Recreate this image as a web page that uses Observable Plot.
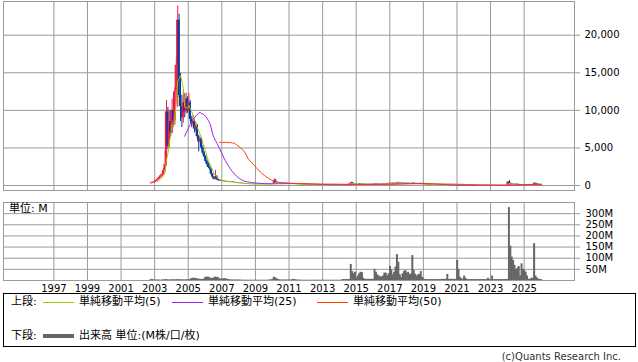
<!DOCTYPE html>
<html><head><meta charset="utf-8">
<script src="https://cdn.jsdelivr.net/npm/d3@7"></script>
<script src="https://cdn.jsdelivr.net/npm/@observablehq/plot@0.6"></script>
<style>
html,body{margin:0;padding:0;background:#fff;}
#chart{position:relative;width:638px;height:362px;overflow:hidden;background:#fff;font-family:"DejaVu Sans","Noto Sans CJK JP",sans-serif;color:#000;}
.abs{position:absolute;white-space:nowrap;}
</style></head><body><div id="chart"></div>
<script>
// ---- data: monthly bars starting October 2002 ----
const firstYear = 2002, firstMonth = 10;
const opens = [
  250, 300, 350,
  450, 600, 700, 900, 1100, 1300, 1500, 2000, 2800, 9800, 5200, 8500,
  7000, 10000, 8600, 12500, 16000, 22000, 12000, 10500, 9000, 11000, 9800, 11500,
  10000, 11000, 8800, 8200, 8500, 7500, 8000, 6500, 5800, 6200, 5000, 4300,
  3800, 3200, 2800, 2400, 2200, 1500, 1100, 800, 1200, 800, 650, 600,
  580, 560, 540, 520, 500, 480, 460, 440, 420, 400, 380, 340,
  320, 300, 280, 260, 250, 240, 230, 220, 210, 200, 200, 190,
  180, 180, 180, 170, 170, 180, 190, 200, 200, 210, 220, 230,
  240, 250, 600, 350, 330, 320, 310, 300, 300, 290, 280, 270,
  260, 250, 240, 220, 200, 180, 160, 150, 140, 130, 120, 120,
  110, 110, 100, 100, 100, 100, 100, 100, 100, 100, 100, 100,
  100, 100, 110, 110, 100, 100, 100, 100, 100, 100, 100, 100,
  100, 100, 100, 100, 100, 110, 120, 150, 200, 350, 250, 200,
  180, 170, 160, 200, 180, 160, 150, 140, 130, 140, 150, 160,
  150, 160, 200, 180, 170, 170, 180, 190, 200, 220, 230, 250,
  280, 270, 280, 300, 320, 330, 400, 350, 320, 300, 320, 300,
  290, 280, 270, 260, 260, 300, 250, 250, 250, 240, 260, 230,
  200, 150, 120, 100, 80, 60, 50, 50, 40, 40, 40, 40,
  40, 40, 40, 35, 35, 30, 40, 35, 30, 30, 30, 30,
  30, 60, 45, 35, 35, 40, 35, 30, 30, 30, 30, 30,
  30, 30, 30, 30, 30, 30, 30, 30, 30, 30, 30, 35,
  30, 30, 40, 30, 30, 30, 30, 30, 30, 30, 30, 30,
  40, 450, 300, 200, 180, 150, 140, 160, 120, 130, 110, 100,
  100, 100, 100, 100, 100, 110, 120, 150, 300, 200, 150, 130,
  120
];
const highs = [
  450, 420, 520,
  700, 800, 1000, 1250, 1400, 1700, 2300, 4600, 11300, 10400, 10000, 10000,
  11500, 12300, 13000, 17000, 23900, 22800, 14900, 12000, 12600, 12200, 12300, 11800,
  12200, 11300, 9200, 9300, 8700, 8400, 8100, 6700, 6400, 6300, 5300, 4500,
  4000, 3400, 3000, 2700, 2300, 1600, 1200, 2000, 1300, 850, 700, 650,
  620, 600, 580, 560, 540, 520, 500, 470, 450, 430, 400, 360,
  340, 320, 300, 280, 270, 260, 250, 240, 230, 220, 220, 210,
  200, 200, 200, 190, 200, 210, 220, 220, 230, 240, 250, 260,
  280, 900, 800, 380, 360, 350, 340, 330, 320, 310, 300, 290,
  280, 270, 260, 240, 220, 200, 180, 170, 160, 150, 140, 130,
  130, 120, 115, 115, 115, 115, 115, 115, 115, 115, 115, 115,
  115, 130, 130, 120, 115, 115, 115, 115, 115, 115, 115, 115,
  115, 115, 115, 115, 125, 140, 180, 240, 440, 380, 260, 220,
  200, 190, 240, 230, 200, 180, 170, 160, 170, 180, 190, 180,
  180, 240, 220, 200, 200, 210, 220, 240, 260, 260, 280, 310,
  310, 310, 340, 360, 370, 440, 420, 370, 340, 350, 340, 320,
  310, 300, 290, 290, 340, 320, 280, 280, 270, 290, 280, 240,
  210, 160, 130, 110, 90, 70, 60, 55, 50, 50, 50, 50,
  50, 50, 45, 45, 40, 60, 50, 40, 40, 40, 40, 40,
  80, 70, 50, 45, 50, 45, 40, 40, 40, 40, 40, 40,
  40, 40, 40, 40, 40, 40, 40, 40, 40, 40, 45, 40,
  40, 50, 45, 40, 40, 40, 40, 40, 40, 40, 40, 50,
  480, 660, 320, 230, 200, 170, 190, 170, 150, 140, 120, 120,
  120, 115, 115, 115, 130, 140, 170, 310, 300, 210, 160, 140,
  130
];
const lows = [
  200, 260, 330,
  420, 550, 620, 850, 950, 1200, 1400, 1900, 2600, 4800, 5000, 6500,
  6900, 7700, 8000, 11000, 10400, 11700, 8500, 7700, 8300, 9000, 9500, 9600,
  9800, 8400, 7700, 7900, 7000, 7200, 6200, 4500, 5600, 4800, 4100, 3600,
  3000, 2600, 2300, 2000, 1400, 1000, 750, 750, 700, 600, 560, 550,
  530, 510, 500, 480, 460, 440, 420, 400, 380, 360, 330, 310,
  290, 270, 250, 240, 230, 220, 210, 200, 190, 190, 180, 170,
  170, 170, 160, 160, 165, 175, 185, 190, 195, 205, 215, 225,
  235, 240, 330, 310, 300, 290, 285, 280, 270, 260, 250, 245,
  235, 225, 210, 190, 170, 150, 140, 130, 120, 110, 110, 100,
  100, 95, 95, 95, 95, 95, 95, 95, 95, 95, 95, 95,
  95, 95, 100, 95, 95, 95, 95, 95, 95, 95, 95, 95,
  95, 95, 95, 95, 95, 105, 115, 145, 190, 230, 190, 170,
  160, 150, 150, 170, 150, 140, 130, 120, 125, 135, 145, 140,
  140, 150, 170, 160, 160, 165, 175, 185, 195, 215, 225, 245,
  255, 260, 275, 295, 310, 320, 330, 300, 290, 295, 290, 280,
  270, 260, 250, 250, 250, 240, 240, 240, 230, 230, 220, 190,
  140, 110, 90, 70, 55, 45, 45, 35, 35, 35, 35, 35,
  35, 35, 30, 30, 28, 28, 30, 28, 28, 28, 28, 28,
  28, 40, 30, 30, 32, 30, 28, 28, 28, 28, 28, 28,
  28, 28, 28, 28, 28, 28, 28, 28, 28, 28, 28, 28,
  28, 28, 28, 28, 28, 28, 28, 28, 28, 28, 28, 28,
  35, 280, 190, 170, 140, 130, 135, 115, 115, 105, 95, 95,
  95, 95, 95, 95, 100, 105, 115, 140, 190, 145, 125, 115,
  105
];
const closes = [
  300, 350, 450,
  600, 700, 900, 1100, 1300, 1500, 2000, 2800, 9800, 5200, 8500, 7000,
  10000, 8600, 12500, 16000, 22000, 12000, 10500, 9000, 11000, 9800, 11500, 10000,
  11000, 8800, 8200, 8500, 7500, 8000, 6500, 5800, 6200, 5000, 4300, 3800,
  3200, 2800, 2400, 2200, 1500, 1100, 800, 1200, 800, 650, 600, 580,
  560, 540, 520, 500, 480, 460, 440, 420, 400, 380, 340, 320,
  300, 280, 260, 250, 240, 230, 220, 210, 200, 200, 190, 180,
  180, 180, 170, 170, 180, 190, 200, 200, 210, 220, 230, 240,
  250, 600, 350, 330, 320, 310, 300, 300, 290, 280, 270, 260,
  250, 240, 220, 200, 180, 160, 150, 140, 130, 120, 120, 110,
  110, 100, 100, 100, 100, 100, 100, 100, 100, 100, 100, 100,
  100, 110, 110, 100, 100, 100, 100, 100, 100, 100, 100, 100,
  100, 100, 100, 100, 110, 120, 150, 200, 350, 250, 200, 180,
  170, 160, 200, 180, 160, 150, 140, 130, 140, 150, 160, 150,
  160, 200, 180, 170, 170, 180, 190, 200, 220, 230, 250, 280,
  270, 280, 300, 320, 330, 400, 350, 320, 300, 320, 300, 290,
  280, 270, 260, 260, 300, 250, 250, 250, 240, 260, 230, 200,
  150, 120, 100, 80, 60, 50, 50, 40, 40, 40, 40, 40,
  40, 40, 35, 35, 30, 40, 35, 30, 30, 30, 30, 30,
  60, 45, 35, 35, 40, 35, 30, 30, 30, 30, 30, 30,
  30, 30, 30, 30, 30, 30, 30, 30, 30, 30, 35, 30,
  30, 40, 30, 30, 30, 30, 30, 30, 30, 30, 30, 40,
  450, 300, 200, 180, 150, 140, 160, 120, 130, 110, 100, 100,
  100, 100, 100, 100, 110, 120, 150, 300, 200, 150, 130, 120,
  110
];
// volume in millions
const volumes = [
  4, 4, 3,
  2, 2, 2, 2, 1, 2, 3, 3, 4, 3, 2, 3,
  3, 3, 3, 3, 4, 3, 3, 3, 3, 2, 3, 3,
  3, 4, 8, 10, 10, 9, 8, 6, 5, 4, 5, 6,
  14, 15, 15, 12, 10, 8, 12, 15, 14, 13, 8, 6,
  6, 8, 8, 7, 5, 3, 3, 2, 2, 2, 2, 2,
  2, 2, 1, 1, 1, 1, 1, 1, 1, 1, 1, 1,
  1, 1, 1, 1, 1, 1, 1, 1, 1, 2, 2, 3,
  5, 15, 12, 8, 4, 3, 2, 2, 2, 2, 2, 2,
  2, 2, 3, 5, 4, 2, 2, 2, 1, 1, 1, 1,
  1, 1, 1, 1, 1, 1, 1, 1, 1, 1, 1, 1,
  1, 1, 1, 1, 1, 1, 1, 1, 1, 1, 1, 1,
  1, 1, 4, 4, 4, 4, 4, 4, 72, 40, 30, 37,
  10, 20, 30, 37, 35, 10, 5, 5, 5, 5, 5, 5,
  5, 50, 37, 25, 20, 16, 16, 20, 33, 33, 20, 30,
  63, 48, 26, 37, 60, 116, 82, 26, 13, 30, 40, 45,
  33, 37, 26, 30, 112, 45, 28, 20, 25, 27, 40, 14,
  6, 4, 4, 4, 4, 4, 4, 4, 4, 4, 4, 4,
  4, 5, 5, 5, 5, 27, 5, 5, 5, 5, 5, 5,
  90, 50, 14, 8, 5, 20, 10, 4, 4, 4, 4, 4,
  4, 4, 4, 4, 4, 4, 4, 4, 4, 4, 10, 4,
  4, 20, 4, 4, 4, 4, 4, 4, 4, 4, 4, 4,
  5, 327, 154, 105, 90, 68, 48, 55, 63, 20, 75, 50,
  45, 37, 20, 5, 5, 10, 10, 165, 20, 11, 6, 4,
  4
];
const maPeriods = [5, 25, 50];
const maLabels = ["単純移動平均(5)", "単純移動平均(25)", "単純移動平均(50)"];
const priceTicks = [0, 5000, 10000, 15000, 20000];
const volumeGrid = [0, 50, 100, 150, 200, 250, 300, 350];
const volumeTicks = [50, 100, 150, 200, 250, 300];
const yearTicks = [1997, 1999, 2001, 2003, 2005, 2007, 2009, 2011, 2013, 2015, 2017, 2019, 2021, 2023, 2025];
const legendTop = "上段:";
const legendBottom = "下段:";
const volumeLegend = "出来高 単位:(M株/口/枚)";
const unitLabel = "単位: M";
const credit = "(c)Quants Research Inc.";

// ---- styles ----
const UP = "#ff1744", DOWN = "#0a3a9a";
const MA_COLORS = ["#99cc00", "#9b1ff2", "#ff3d00"];
const GRID = "#9a9a9a";
const VOL = "#666666";

const rows = closes.map((c, i) => {
  const start = new Date(Date.UTC(firstYear, firstMonth - 1 + i, 1));
  const end = new Date(Date.UTC(firstYear, firstMonth + i, 1));
  return {start, end, mid: new Date((+start + +end) / 2),
    open: opens[i], high: highs[i], low: lows[i], close: c, vol: volumes[i],
    color: c >= opens[i] ? UP : DOWN};
});
const mas = maPeriods.map(n => rows.map((r, i) => ({
  mid: r.mid,
  v: i < n - 1 ? NaN : d3.mean(closes.slice(i - n + 1, i + 1))
})));

const xDomain = [new Date(Date.UTC(1994, 0, 1)), new Date(Date.UTC(2028, 0, 1))];
const yearDates = yearTicks.map(y => new Date(Date.UTC(y, 0, 1)));
const font = {fontFamily: "DejaVu Sans", fontSize: "10px", background: "transparent", overflow: "visible"};

const pricePlot = Plot.plot({
  width: 638, height: 191,
  marginLeft: 3, marginRight: 64, marginTop: 1, marginBottom: 1,
  style: font,
  x: {type: "utc", domain: xDomain, axis: null},
  y: {domain: [-665, 24485]},
  color: {type: "identity"},
  marks: [
    Plot.gridX(yearDates, {stroke: GRID, strokeOpacity: 1}),
    Plot.gridY(priceTicks, {stroke: GRID, strokeOpacity: 1}),
    Plot.ruleX(rows, {x: "mid", y1: "low", y2: "high", stroke: "color", strokeWidth: 1}),
    Plot.rect(rows, {x1: "start", x2: "end", y1: "open", y2: "close", fill: "color", insetLeft: -0.4, insetRight: -0.4}),
    ...mas.map((m, k) => Plot.line(m, {x: "mid", y: "v", stroke: MA_COLORS[k], strokeWidth: 1})),
    Plot.frame({stroke: GRID}),
    Plot.axisY(priceTicks, {anchor: "right", tickSize: 5, tickPadding: 5, stroke: GRID, fill: "#000", tickFormat: d3.format(","), label: null})
  ]
});

const volumePlot = Plot.plot({
  width: 638, height: 100,
  marginLeft: 3, marginRight: 64, marginTop: 7, marginBottom: 15,
  style: font,
  x: {type: "utc", domain: xDomain},
  y: {domain: [0, 350]},
  marks: [
    Plot.gridX(yearDates, {stroke: GRID, strokeOpacity: 1}),
    Plot.gridY(volumeGrid, {stroke: GRID, strokeOpacity: 1}),
    Plot.rectY(rows, {x1: "start", x2: "end", y: "vol", fill: VOL, insetLeft: -0.3, insetRight: -0.3}),
    Plot.frame({stroke: GRID}),
    Plot.axisY(volumeTicks, {anchor: "right", tickSize: 5, tickPadding: 6, stroke: GRID, fill: "#000", tickFormat: d => d + "M", label: null}),
    Plot.axisX(yearDates, {anchor: "bottom", tickSize: 0, tickPadding: 4, fill: "#000", tickFormat: d3.utcFormat("%Y"), label: null})
  ]
});

const chart = document.getElementById("chart");
function place(el, left, topPx) {
  const d = document.createElement("div");
  d.className = "abs";
  d.style.left = left + "px"; d.style.top = topPx + "px";
  d.appendChild(el);
  chart.appendChild(d);
  return d;
}
pricePlot.style.display = "block"; volumePlot.style.display = "block";
place(pricePlot, 0, 0);
place(volumePlot, 0, 195);

function text(str, left, cy, size, color) {
  const s = document.createElement("div");
  s.className = "abs";
  s.textContent = str;
  s.style.left = left + "px";
  s.style.top = (cy - 8) + "px";
  s.style.lineHeight = "16px";
  s.style.fontSize = size + "px";
  if (color) s.style.color = color;
  return s;
}
chart.appendChild(text(unitLabel, 9, 209, 11));

// legend box
const box = document.createElement("div");
box.className = "abs";
Object.assign(box.style, {left: "3px", top: "293px", width: "633px", height: "54px", border: "1px solid #000", boxSizing: "border-box"});
chart.appendChild(box);
function line(left, cy, w, h, color) {
  const l = document.createElement("div");
  l.className = "abs";
  Object.assign(l.style, {left: left + "px", top: (cy - h / 2) + "px", width: w + "px", height: h + "px", background: color});
  return l;
}
const r1 = 8, r2 = 42; // row centers inside box
box.appendChild(text(legendTop, 7, r1, 11));
const lineX = [39, 168, 313], textX = [75, 204, 349];
maLabels.forEach((lab, k) => {
  box.appendChild(line(lineX[k], r1, 31, 1, MA_COLORS[k]));
  box.appendChild(text(lab, textX[k], r1, 11));
});
box.appendChild(text(legendBottom, 7, r2, 11));
box.appendChild(line(39, r2, 31, 4, VOL));
box.appendChild(text(volumeLegend, 75, r2, 11));

const cr = text(credit, 0, 357, 10, "#333");
cr.style.left = "auto"; cr.style.right = "17px";
chart.appendChild(cr);
</script></body></html>
